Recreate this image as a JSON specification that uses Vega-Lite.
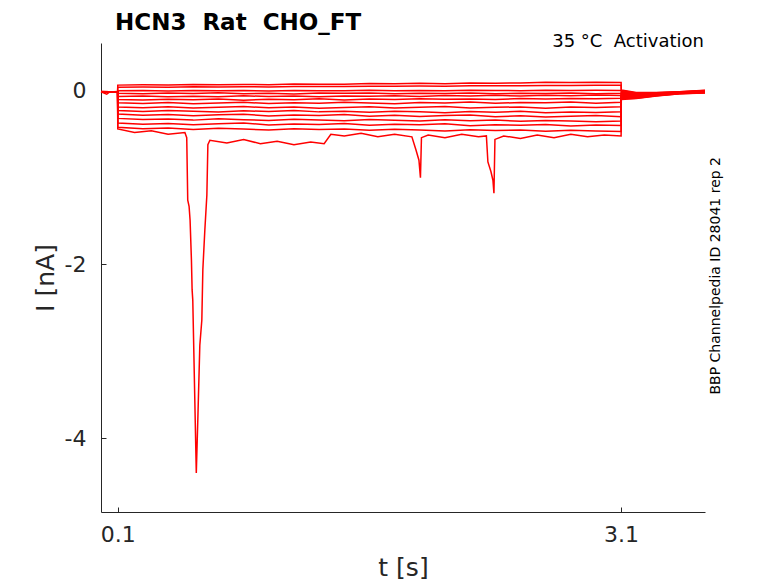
{
  "$schema": "https://vega.github.io/schema/vega-lite/v6.json",
  "width": 604,
  "height": 469,
  "autosize": {"type": "none"},
  "padding": {"left": 101, "top": 43, "right": 73, "bottom": 71},
  "background": "white",
  "title": {
    "text": "HCN3\u00a0 Rat\u00a0 CHO_FT",
    "anchor": "start",
    "frame": "group",
    "dx": 14,
    "baseline": "alphabetic",
    "offset": -20,
    "fontSize": 23,
    "fontWeight": "bold",
    "color": "#000000"
  },
  "datasets": {
    "traces": [
      {"s":1,"t":0,"i":-0.008},{"s":1,"t":0.05,"i":-0.010},{"s":1,"t":0.099,"i":-0.008},
      {"s":1,"t":0.1,"i":0.065},{"s":1,"t":0.25,"i":0.068},{"s":1,"t":0.4,"i":0.066},{"s":1,"t":0.55,"i":0.072},{"s":1,"t":0.7,"i":0.068},{"s":1,"t":0.85,"i":0.073},{"s":1,"t":1.0,"i":0.070},{"s":1,"t":1.15,"i":0.077},{"s":1,"t":1.3,"i":0.075},{"s":1,"t":1.45,"i":0.076},{"s":1,"t":1.6,"i":0.084},{"s":1,"t":1.75,"i":0.080},{"s":1,"t":1.9,"i":0.086},{"s":1,"t":2.05,"i":0.082},{"s":1,"t":2.2,"i":0.089},{"s":1,"t":2.35,"i":0.088},{"s":1,"t":2.5,"i":0.090},{"s":1,"t":2.65,"i":0.097},{"s":1,"t":2.8,"i":0.094},{"s":1,"t":2.95,"i":0.099},{"s":1,"t":3.1,"i":0.096},
      {"s":1,"t":3.101,"i":0.010},{"s":1,"t":3.19,"i":-0.020},{"s":1,"t":3.31,"i":-0.020},{"s":1,"t":3.45,"i":-0.010},{"s":1,"t":3.6,"i":0.005},

      {"s":2,"t":0,"i":-0.010},{"s":2,"t":0.05,"i":-0.012},{"s":2,"t":0.099,"i":-0.009},
      {"s":2,"t":0.1,"i":0.040},{"s":2,"t":0.25,"i":0.043},{"s":2,"t":0.4,"i":0.041},{"s":2,"t":0.55,"i":0.046},{"s":2,"t":0.7,"i":0.042},{"s":2,"t":0.85,"i":0.047},{"s":2,"t":1.0,"i":0.043},{"s":2,"t":1.15,"i":0.049},{"s":2,"t":1.3,"i":0.048},{"s":2,"t":1.45,"i":0.050},{"s":2,"t":1.6,"i":0.052},{"s":2,"t":1.75,"i":0.051},{"s":2,"t":1.9,"i":0.055},{"s":2,"t":2.05,"i":0.053},{"s":2,"t":2.2,"i":0.057},{"s":2,"t":2.35,"i":0.058},{"s":2,"t":2.5,"i":0.057},{"s":2,"t":2.65,"i":0.062},{"s":2,"t":2.8,"i":0.060},{"s":2,"t":2.95,"i":0.064},{"s":2,"t":3.1,"i":0.063},
      {"s":2,"t":3.101,"i":0.002},{"s":2,"t":3.19,"i":-0.025},{"s":2,"t":3.31,"i":-0.023},{"s":2,"t":3.45,"i":-0.012},{"s":2,"t":3.6,"i":0.003},

      {"s":3,"t":0,"i":-0.009},{"s":3,"t":0.05,"i":-0.011},{"s":3,"t":0.099,"i":-0.010},
      {"s":3,"t":0.1,"i":0.000},{"s":3,"t":0.25,"i":0.003},{"s":3,"t":0.4,"i":-0.002},{"s":3,"t":0.55,"i":0.004},{"s":3,"t":0.7,"i":-0.001},{"s":3,"t":0.85,"i":0.002},{"s":3,"t":1.0,"i":-0.003},{"s":3,"t":1.15,"i":0.004},{"s":3,"t":1.3,"i":0.001},{"s":3,"t":1.45,"i":0.000},{"s":3,"t":1.6,"i":0.005},{"s":3,"t":1.75,"i":-0.001},{"s":3,"t":1.9,"i":0.004},{"s":3,"t":2.05,"i":0.000},{"s":3,"t":2.2,"i":0.005},{"s":3,"t":2.35,"i":0.003},{"s":3,"t":2.5,"i":0.001},{"s":3,"t":2.65,"i":0.007},{"s":3,"t":2.8,"i":0.002},{"s":3,"t":2.95,"i":0.006},{"s":3,"t":3.1,"i":0.004},
      {"s":3,"t":3.101,"i":-0.007},{"s":3,"t":3.19,"i":-0.031},{"s":3,"t":3.31,"i":-0.026},{"s":3,"t":3.45,"i":-0.014},{"s":3,"t":3.6,"i":0.000},

      {"s":4,"t":0,"i":-0.011},{"s":4,"t":0.05,"i":-0.013},{"s":4,"t":0.099,"i":-0.010},
      {"s":4,"t":0.1,"i":-0.028},{"s":4,"t":0.25,"i":-0.034},{"s":4,"t":0.4,"i":-0.026},{"s":4,"t":0.55,"i":-0.031},{"s":4,"t":0.7,"i":-0.024},{"s":4,"t":0.85,"i":-0.033},{"s":4,"t":1.0,"i":-0.029},{"s":4,"t":1.15,"i":-0.036},{"s":4,"t":1.3,"i":-0.027},{"s":4,"t":1.45,"i":-0.030},{"s":4,"t":1.6,"i":-0.025},{"s":4,"t":1.75,"i":-0.034},{"s":4,"t":1.9,"i":-0.028},{"s":4,"t":2.05,"i":-0.032},{"s":4,"t":2.2,"i":-0.026},{"s":4,"t":2.35,"i":-0.035},{"s":4,"t":2.5,"i":-0.029},{"s":4,"t":2.65,"i":-0.031},{"s":4,"t":2.8,"i":-0.025},{"s":4,"t":2.95,"i":-0.033},{"s":4,"t":3.1,"i":-0.030},
      {"s":4,"t":3.101,"i":-0.015},{"s":4,"t":3.19,"i":-0.036},{"s":4,"t":3.31,"i":-0.029},{"s":4,"t":3.45,"i":-0.016},{"s":4,"t":3.6,"i":-0.002},

      {"s":5,"t":0,"i":-0.010},{"s":5,"t":0.05,"i":-0.014},{"s":5,"t":0.099,"i":-0.012},
      {"s":5,"t":0.1,"i":-0.066},{"s":5,"t":0.25,"i":-0.060},{"s":5,"t":0.4,"i":-0.070},{"s":5,"t":0.55,"i":-0.062},{"s":5,"t":0.7,"i":-0.068},{"s":5,"t":0.85,"i":-0.058},{"s":5,"t":1.0,"i":-0.066},{"s":5,"t":1.15,"i":-0.061},{"s":5,"t":1.3,"i":-0.069},{"s":5,"t":1.45,"i":-0.059},{"s":5,"t":1.6,"i":-0.063},{"s":5,"t":1.75,"i":-0.057},{"s":5,"t":1.9,"i":-0.066},{"s":5,"t":2.05,"i":-0.055},{"s":5,"t":2.2,"i":-0.061},{"s":5,"t":2.35,"i":-0.053},{"s":5,"t":2.5,"i":-0.060},{"s":5,"t":2.65,"i":-0.052},{"s":5,"t":2.8,"i":-0.058},{"s":5,"t":2.95,"i":-0.049},{"s":5,"t":3.1,"i":-0.054},
      {"s":5,"t":3.101,"i":-0.024},{"s":5,"t":3.19,"i":-0.042},{"s":5,"t":3.31,"i":-0.032},{"s":5,"t":3.45,"i":-0.018},{"s":5,"t":3.6,"i":-0.004},

      {"s":6,"t":0,"i":-0.012},{"s":6,"t":0.05,"i":-0.012},{"s":6,"t":0.099,"i":-0.011},
      {"s":6,"t":0.1,"i":-0.100},{"s":6,"t":0.25,"i":-0.106},{"s":6,"t":0.4,"i":-0.097},{"s":6,"t":0.55,"i":-0.104},{"s":6,"t":0.7,"i":-0.095},{"s":6,"t":0.85,"i":-0.108},{"s":6,"t":1.0,"i":-0.099},{"s":6,"t":1.15,"i":-0.102},{"s":6,"t":1.3,"i":-0.093},{"s":6,"t":1.45,"i":-0.105},{"s":6,"t":1.6,"i":-0.096},{"s":6,"t":1.75,"i":-0.100},{"s":6,"t":1.9,"i":-0.091},{"s":6,"t":2.05,"i":-0.099},{"s":6,"t":2.2,"i":-0.094},{"s":6,"t":2.35,"i":-0.101},{"s":6,"t":2.5,"i":-0.088},{"s":6,"t":2.65,"i":-0.096},{"s":6,"t":2.8,"i":-0.090},{"s":6,"t":2.95,"i":-0.093},{"s":6,"t":3.1,"i":-0.086},
      {"s":6,"t":3.101,"i":-0.032},{"s":6,"t":3.19,"i":-0.047},{"s":6,"t":3.31,"i":-0.035},{"s":6,"t":3.45,"i":-0.020},{"s":6,"t":3.6,"i":-0.007},

      {"s":7,"t":0,"i":-0.011},{"s":7,"t":0.05,"i":-0.015},{"s":7,"t":0.099,"i":-0.013},
      {"s":7,"t":0.1,"i":-0.138},{"s":7,"t":0.25,"i":-0.146},{"s":7,"t":0.4,"i":-0.135},{"s":7,"t":0.55,"i":-0.150},{"s":7,"t":0.7,"i":-0.140},{"s":7,"t":0.85,"i":-0.133},{"s":7,"t":1.0,"i":-0.148},{"s":7,"t":1.15,"i":-0.139},{"s":7,"t":1.3,"i":-0.144},{"s":7,"t":1.45,"i":-0.131},{"s":7,"t":1.6,"i":-0.142},{"s":7,"t":1.75,"i":-0.149},{"s":7,"t":1.9,"i":-0.136},{"s":7,"t":2.05,"i":-0.141},{"s":7,"t":2.2,"i":-0.130},{"s":7,"t":2.35,"i":-0.145},{"s":7,"t":2.5,"i":-0.134},{"s":7,"t":2.65,"i":-0.139},{"s":7,"t":2.8,"i":-0.128},{"s":7,"t":2.95,"i":-0.143},{"s":7,"t":3.1,"i":-0.132},
      {"s":7,"t":3.101,"i":-0.041},{"s":7,"t":3.19,"i":-0.052},{"s":7,"t":3.31,"i":-0.038},{"s":7,"t":3.45,"i":-0.022},{"s":7,"t":3.6,"i":-0.009},

      {"s":8,"t":0,"i":-0.013},{"s":8,"t":0.05,"i":-0.012},{"s":8,"t":0.099,"i":-0.012},
      {"s":8,"t":0.1,"i":-0.188},{"s":8,"t":0.25,"i":-0.195},{"s":8,"t":0.4,"i":-0.183},{"s":8,"t":0.55,"i":-0.199},{"s":8,"t":0.7,"i":-0.190},{"s":8,"t":0.85,"i":-0.181},{"s":8,"t":1.0,"i":-0.196},{"s":8,"t":1.15,"i":-0.187},{"s":8,"t":1.3,"i":-0.201},{"s":8,"t":1.45,"i":-0.192},{"s":8,"t":1.6,"i":-0.184},{"s":8,"t":1.75,"i":-0.198},{"s":8,"t":1.9,"i":-0.189},{"s":8,"t":2.05,"i":-0.182},{"s":8,"t":2.2,"i":-0.197},{"s":8,"t":2.35,"i":-0.191},{"s":8,"t":2.5,"i":-0.186},{"s":8,"t":2.65,"i":-0.200},{"s":8,"t":2.8,"i":-0.188},{"s":8,"t":2.95,"i":-0.194},{"s":8,"t":3.1,"i":-0.185},
      {"s":8,"t":3.101,"i":-0.049},{"s":8,"t":3.19,"i":-0.058},{"s":8,"t":3.31,"i":-0.042},{"s":8,"t":3.45,"i":-0.023},{"s":8,"t":3.6,"i":-0.011},

      {"s":9,"t":0,"i":-0.012},{"s":9,"t":0.05,"i":-0.016},{"s":9,"t":0.099,"i":-0.011},
      {"s":9,"t":0.1,"i":-0.228},{"s":9,"t":0.25,"i":-0.240},{"s":9,"t":0.4,"i":-0.226},{"s":9,"t":0.55,"i":-0.236},{"s":9,"t":0.7,"i":-0.245},{"s":9,"t":0.85,"i":-0.231},{"s":9,"t":1.0,"i":-0.239},{"s":9,"t":1.15,"i":-0.228},{"s":9,"t":1.3,"i":-0.243},{"s":9,"t":1.45,"i":-0.236},{"s":9,"t":1.6,"i":-0.248},{"s":9,"t":1.75,"i":-0.235},{"s":9,"t":1.9,"i":-0.242},{"s":9,"t":2.05,"i":-0.252},{"s":9,"t":2.2,"i":-0.238},{"s":9,"t":2.35,"i":-0.246},{"s":9,"t":2.5,"i":-0.237},{"s":9,"t":2.65,"i":-0.253},{"s":9,"t":2.8,"i":-0.244},{"s":9,"t":2.95,"i":-0.249},{"s":9,"t":3.1,"i":-0.241},
      {"s":9,"t":3.101,"i":-0.058},{"s":9,"t":3.19,"i":-0.063},{"s":9,"t":3.31,"i":-0.045},{"s":9,"t":3.45,"i":-0.025},{"s":9,"t":3.6,"i":-0.013},

      {"s":10,"t":0,"i":-0.014},{"s":10,"t":0.05,"i":-0.013},{"s":10,"t":0.099,"i":-0.013},
      {"s":10,"t":0.1,"i":-0.268},{"s":10,"t":0.25,"i":-0.281},{"s":10,"t":0.4,"i":-0.272},{"s":10,"t":0.55,"i":-0.287},{"s":10,"t":0.7,"i":-0.276},{"s":10,"t":0.85,"i":-0.269},{"s":10,"t":1.0,"i":-0.290},{"s":10,"t":1.15,"i":-0.279},{"s":10,"t":1.3,"i":-0.285},{"s":10,"t":1.45,"i":-0.274},{"s":10,"t":1.6,"i":-0.293},{"s":10,"t":1.75,"i":-0.282},{"s":10,"t":1.9,"i":-0.296},{"s":10,"t":2.05,"i":-0.286},{"s":10,"t":2.2,"i":-0.279},{"s":10,"t":2.35,"i":-0.298},{"s":10,"t":2.5,"i":-0.289},{"s":10,"t":2.65,"i":-0.301},{"s":10,"t":2.8,"i":-0.292},{"s":10,"t":2.95,"i":-0.286},{"s":10,"t":3.1,"i":-0.300},
      {"s":10,"t":3.101,"i":-0.066},{"s":10,"t":3.19,"i":-0.068},{"s":10,"t":3.31,"i":-0.048},{"s":10,"t":3.45,"i":-0.027},{"s":10,"t":3.6,"i":-0.016},

      {"s":11,"t":0,"i":-0.013},{"s":11,"t":0.05,"i":-0.017},{"s":11,"t":0.099,"i":-0.012},
      {"s":11,"t":0.1,"i":-0.318},{"s":11,"t":0.25,"i":-0.330},{"s":11,"t":0.4,"i":-0.325},{"s":11,"t":0.55,"i":-0.338},{"s":11,"t":0.7,"i":-0.321},{"s":11,"t":0.85,"i":-0.333},{"s":11,"t":1.0,"i":-0.342},{"s":11,"t":1.15,"i":-0.329},{"s":11,"t":1.3,"i":-0.336},{"s":11,"t":1.45,"i":-0.345},{"s":11,"t":1.6,"i":-0.331},{"s":11,"t":1.75,"i":-0.340},{"s":11,"t":1.9,"i":-0.349},{"s":11,"t":2.05,"i":-0.335},{"s":11,"t":2.2,"i":-0.344},{"s":11,"t":2.35,"i":-0.338},{"s":11,"t":2.5,"i":-0.352},{"s":11,"t":2.65,"i":-0.341},{"s":11,"t":2.8,"i":-0.347},{"s":11,"t":2.95,"i":-0.356},{"s":11,"t":3.1,"i":-0.349},
      {"s":11,"t":3.101,"i":-0.075},{"s":11,"t":3.19,"i":-0.074},{"s":11,"t":3.31,"i":-0.051},{"s":11,"t":3.45,"i":-0.029},{"s":11,"t":3.6,"i":-0.018},

      {"s":12,"t":0,"i":-0.015},{"s":12,"t":0.05,"i":-0.014},{"s":12,"t":0.099,"i":-0.014},
      {"s":12,"t":0.1,"i":-0.372},{"s":12,"t":0.25,"i":-0.385},{"s":12,"t":0.4,"i":-0.377},{"s":12,"t":0.55,"i":-0.391},{"s":12,"t":0.7,"i":-0.380},{"s":12,"t":0.85,"i":-0.370},{"s":12,"t":1.0,"i":-0.394},{"s":12,"t":1.15,"i":-0.383},{"s":12,"t":1.3,"i":-0.389},{"s":12,"t":1.45,"i":-0.378},{"s":12,"t":1.6,"i":-0.398},{"s":12,"t":1.75,"i":-0.386},{"s":12,"t":1.9,"i":-0.392},{"s":12,"t":2.05,"i":-0.381},{"s":12,"t":2.2,"i":-0.402},{"s":12,"t":2.35,"i":-0.390},{"s":12,"t":2.5,"i":-0.396},{"s":12,"t":2.65,"i":-0.388},{"s":12,"t":2.8,"i":-0.405},{"s":12,"t":2.95,"i":-0.393},{"s":12,"t":3.1,"i":-0.399},
      {"s":12,"t":3.101,"i":-0.083},{"s":12,"t":3.19,"i":-0.079},{"s":12,"t":3.31,"i":-0.054},{"s":12,"t":3.45,"i":-0.031},{"s":12,"t":3.6,"i":-0.020},

      {"s":13,"t":0,"i":-0.014},{"s":13,"t":0.05,"i":-0.018},{"s":13,"t":0.099,"i":-0.013},
      {"s":13,"t":0.1,"i":-0.420},{"s":13,"t":0.25,"i":-0.437},{"s":13,"t":0.4,"i":-0.428},{"s":13,"t":0.55,"i":-0.445},{"s":13,"t":0.7,"i":-0.431},{"s":13,"t":0.85,"i":-0.441},{"s":13,"t":1.0,"i":-0.452},{"s":13,"t":1.15,"i":-0.436},{"s":13,"t":1.3,"i":-0.447},{"s":13,"t":1.45,"i":-0.439},{"s":13,"t":1.6,"i":-0.456},{"s":13,"t":1.75,"i":-0.444},{"s":13,"t":1.9,"i":-0.451},{"s":13,"t":2.05,"i":-0.462},{"s":13,"t":2.2,"i":-0.448},{"s":13,"t":2.35,"i":-0.458},{"s":13,"t":2.5,"i":-0.452},{"s":13,"t":2.65,"i":-0.467},{"s":13,"t":2.8,"i":-0.455},{"s":13,"t":2.95,"i":-0.463},{"s":13,"t":3.1,"i":-0.470},
      {"s":13,"t":3.101,"i":-0.092},{"s":13,"t":3.19,"i":-0.085},{"s":13,"t":3.31,"i":-0.057},{"s":13,"t":3.45,"i":-0.033},{"s":13,"t":3.6,"i":-0.023},

      {"s":14,"t":0,"i":-0.012},{"s":14,"t":0.034,"i":-0.040},{"s":14,"t":0.05,"i":-0.015},{"s":14,"t":0.099,"i":-0.012},
      {"s":14,"t":0.1,"i":-0.44},{"s":14,"t":0.2,"i":-0.48},{"s":14,"t":0.3,"i":-0.46},{"s":14,"t":0.4,"i":-0.50},{"s":14,"t":0.5,"i":-0.48},
      {"s":14,"t":0.511,"i":-0.54},{"s":14,"t":0.517,"i":-1.26},{"s":14,"t":0.525,"i":-1.33},{"s":14,"t":0.531,"i":-1.49},{"s":14,"t":0.539,"i":-1.95},{"s":14,"t":0.543,"i":-2.29},{"s":14,"t":0.547,"i":-2.41},{"s":14,"t":0.568,"i":-4.40},{"s":14,"t":0.577,"i":-3.79},{"s":14,"t":0.589,"i":-2.93},{"s":14,"t":0.601,"i":-2.64},{"s":14,"t":0.607,"i":-2.06},{"s":14,"t":0.619,"i":-1.60},{"s":14,"t":0.631,"i":-1.20},{"s":14,"t":0.637,"i":-0.62},{"s":14,"t":0.649,"i":-0.57},
      {"s":14,"t":0.75,"i":-0.60},{"s":14,"t":0.85,"i":-0.56},{"s":14,"t":0.95,"i":-0.61},{"s":14,"t":1.05,"i":-0.58},{"s":14,"t":1.15,"i":-0.62},{"s":14,"t":1.25,"i":-0.59},{"s":14,"t":1.33,"i":-0.61},{"s":14,"t":1.37,"i":-0.50},{"s":14,"t":1.45,"i":-0.52},{"s":14,"t":1.55,"i":-0.49},{"s":14,"t":1.65,"i":-0.53},{"s":14,"t":1.75,"i":-0.50},
      {"s":14,"t":1.853,"i":-0.53},{"s":14,"t":1.877,"i":-0.68},{"s":14,"t":1.895,"i":-0.80},{"s":14,"t":1.904,"i":-1.00},{"s":14,"t":1.91,"i":-0.54},{"s":14,"t":1.95,"i":-0.51},{"s":14,"t":2.05,"i":-0.54},{"s":14,"t":2.15,"i":-0.50},{"s":14,"t":2.25,"i":-0.53},
      {"s":14,"t":2.297,"i":-0.52},{"s":14,"t":2.306,"i":-0.82},{"s":14,"t":2.324,"i":-0.93},{"s":14,"t":2.336,"i":-1.03},{"s":14,"t":2.342,"i":-1.18},{"s":14,"t":2.348,"i":-0.56},{"s":14,"t":2.4,"i":-0.52},{"s":14,"t":2.5,"i":-0.55},{"s":14,"t":2.6,"i":-0.51},{"s":14,"t":2.7,"i":-0.54},{"s":14,"t":2.8,"i":-0.50},{"s":14,"t":2.9,"i":-0.53},{"s":14,"t":3.0,"i":-0.51},{"s":14,"t":3.1,"i":-0.52},
      {"s":14,"t":3.101,"i":-0.100},{"s":14,"t":3.19,"i":-0.090},{"s":14,"t":3.31,"i":-0.060},{"s":14,"t":3.45,"i":-0.035},{"s":14,"t":3.6,"i":-0.025}
    ],
    "notes": [
      {"label": "35 °C\u00a0 Activation", "t": 3.6, "i": 0.55, "kind": "top"},
      {"label": "BBP Channelpedia ID 28041 rep 2", "t": 3.666, "i": -2.13, "kind": "side"}
    ]
  },
  "layer": [
    {
      "data": {"name": "traces"},
      "mark": {"type": "line", "color": "#ff0000", "strokeWidth": 1.5, "clip": false},
      "encoding": {
        "x": {
          "field": "t",
          "type": "quantitative",
          "scale": {"domain": [0, 3.6], "nice": false, "zero": false},
          "axis": {
            "values": [0.1, 3.1],
            "format": ".1f",
            "title": "t [s]",
            "tickSize": -5,
            "labelPadding": 17,
            "titlePadding": 10
          }
        },
        "y": {
          "field": "i",
          "type": "quantitative",
          "scale": {"domain": [-4.85, 0.55], "nice": false, "zero": false},
          "axis": {
            "values": [0, -2, -4],
            "labelExpr": "datum.value < 0 ? '-' + abs(datum.value) : '' + datum.value",
            "title": "I [nA]",
            "tickSize": -5,
            "labelPadding": 20,
            "titlePadding": 6
          }
        },
        "detail": {"field": "s", "type": "nominal"}
      }
    },
    {
      "data": {"name": "notes"},
      "transform": [{"filter": "datum.kind == 'top'"}],
      "mark": {"type": "text", "align": "right", "baseline": "alphabetic", "dy": 4, "dx": -1, "fontSize": 18, "color": "#000000"},
      "encoding": {
        "x": {"field": "t", "type": "quantitative"},
        "y": {"field": "i", "type": "quantitative"},
        "text": {"field": "label"}
      }
    },
    {
      "data": {"name": "notes"},
      "transform": [{"filter": "datum.kind == 'side'"}],
      "mark": {"type": "text", "align": "center", "baseline": "middle", "angle": 270, "fontSize": 14, "color": "#000000"},
      "encoding": {
        "x": {"field": "t", "type": "quantitative"},
        "y": {"field": "i", "type": "quantitative"},
        "text": {"field": "label"}
      }
    }
  ],
  "config": {
    "font": "DejaVu Sans",
    "view": {"stroke": null},
    "axis": {
      "grid": false,
      "domainColor": "#262626",
      "tickColor": "#262626",
      "labelColor": "#262626",
      "titleColor": "#262626",
      "labelFont": "DejaVu Sans",
      "titleFont": "DejaVu Sans",
      "labelFontSize": 22,
      "titleFontSize": 25,
      "titleFontWeight": "normal"
    },
    "title": {"font": "DejaVu Sans"}
  }
}
